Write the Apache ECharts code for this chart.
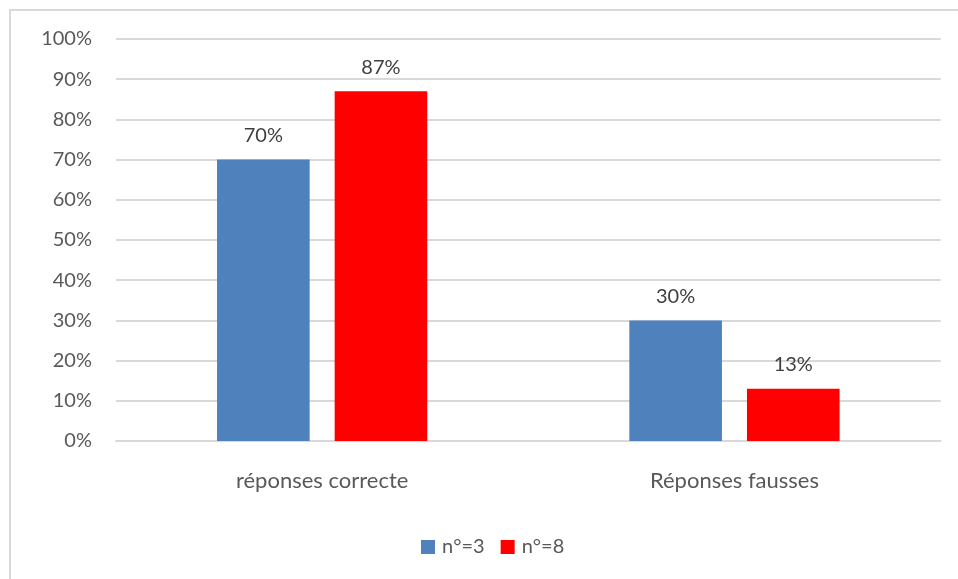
<!DOCTYPE html>
<html>
<head>
<meta charset="utf-8">
<script src="https://cdn.jsdelivr.net/npm/echarts@6/dist/echarts.min.js"></script>
<style>
  html, body { margin: 0; padding: 0; background: #fff; }
  #frame { position: absolute; left: 9px; top: 9px; width: 960px; height: 580px;
           border-left: 2px solid #d9d9d9; border-top: 2px solid #d9d9d9; box-sizing: border-box; }
  #chart { position: absolute; left: 0; top: 0; width: 958px; height: 579px; }
</style>
</head>
<body>
<div id="frame"></div>
<div id="chart"></div>
<script>
const categories = ['réponses correcte', 'Réponses fausses'];
const seriesNames = ['n°=3', 'n°=8'];
const valuesN3 = [70, 30];
const valuesN8 = [87, 13];
const yTicks = [0, 10, 20, 30, 40, 50, 60, 70, 80, 90, 100];

const font = 'Lato, "Open Sans", sans-serif';
const chart = echarts.init(document.getElementById('chart'), null, { renderer: 'canvas' });

function barSeries(name, data, color) {
  return {
    name: name,
    type: 'bar',
    data: data,
    barGap: '27%',
    barCategoryGap: '49%',
    itemStyle: { color: color },
    label: {
      show: true,
      position: 'top',
      distance: 14,
      formatter: p => p.value + '%',
      color: '#404040',
      fontFamily: font,
      fontSize: 20
    }
  };
}

chart.setOption({
  animation: false,
  backgroundColor: 'transparent',
  grid: { left: 116, right: 17.4, top: 39, bottom: 138, containLabel: false },
  legend: {
    data: seriesNames,
    bottom: 17,
    left: 416,
    itemWidth: 14,
    itemHeight: 14,
    itemGap: 16,
    icon: 'rect',
    textStyle: { color: '#595959', fontFamily: font, fontSize: 20, padding: [0, 0, 0, 2] }
  },
  xAxis: {
    type: 'category',
    data: categories,
    axisLine: { show: true, lineStyle: { color: '#d9d9d9', width: 2 } },
    axisTick: { show: false },
    axisLabel: { color: '#595959', fontFamily: font, fontSize: 22, margin: 29 }
  },
  yAxis: {
    type: 'value',
    min: yTicks[0],
    max: yTicks[yTicks.length - 1],
    interval: 10,
    axisLine: { show: false },
    axisTick: { show: false },
    axisLabel: { color: '#595959', fontFamily: font, fontSize: 20, margin: 24, formatter: v => v + '%' },
    splitLine: { lineStyle: { color: '#d9d9d9', width: 2 } }
  },
  series: [
    barSeries(seriesNames[0], valuesN3, '#4f81bd'),
    barSeries(seriesNames[1], valuesN8, '#ff0000')
  ]
});
</script>
</body>
</html>
